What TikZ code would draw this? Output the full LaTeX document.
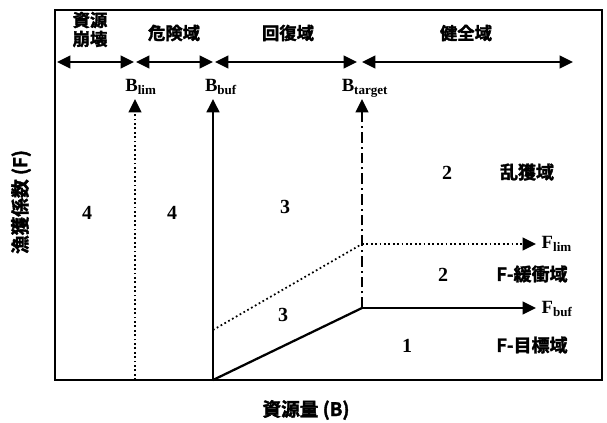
\documentclass[tikz,border=0pt]{standalone}
\usepackage{fontspec}
\setmainfont{Liberation Serif}
\newfontfamily\cjk{Noto Sans CJK JP}[BoldFont={* Bold},BoldFeatures={FakeBold=2}]
\usetikzlibrary{arrows.meta}
\tikzset{
  tip/.tip={Triangle[length=10pt,width=9.5pt]},
  frame/.style={line width=1.6pt},
  dbl/.style={line width=1.3pt,{tip}-{tip}},
  vsolid/.style={line width=1.9pt,-{tip}},
  vdot/.style={line width=1.3pt,dotted,-{tip}},
  vdashdot/.style={line width=1.7pt,dash pattern=on 8pt off 3pt on 1.5pt off 3pt,-{tip}},
  zone/.style={font=\cjk\bfseries\fontsize{13}{13.5}\selectfont, align=center, inner sep=1pt},
  blab/.style={font=\bfseries\fontsize{14}{15}\selectfont},
  num/.style={font=\bfseries\fontsize{15}{16}\selectfont},
  rlab/.style={font=\cjk\bfseries\fontsize{13.5}{14}\selectfont},
  axlab/.style={font=\cjk\bfseries\fontsize{14}{15}\selectfont},
}
\begin{document}
\begin{tikzpicture}[x=0.75pt,y=-0.75pt]
\useasboundingbox (0,0) rectangle (607,422);
% frame
\draw[frame] (55,10) rectangle (602,380);
\draw[line width=2.2pt] (55,380) -- (602,380);
% top double arrows
\coordinate (a0) at (57,62);
\coordinate (a1) at (134,62);
\coordinate (a2) at (136,62);
\coordinate (a3) at (213,62);
\coordinate (a4) at (215,62);
\coordinate (a5) at (357,62);
\coordinate (a6) at (362,62);
\coordinate (a7) at (573,62);
\draw[dbl] (a0) -- (a1);
\draw[dbl] (a2) -- (a3);
\draw[dbl] (a4) -- (a5);
\draw[dbl] (a6) -- (a7);
% zone labels
\node[zone] (z1a) at (90,20) {資源};
\node[zone] (z1b) at (90,39) {崩壊};
\node[zone] (z2) at (174,33) {危険域};
\node[zone] (z3) at (288,33) {回復域};
\node[zone] (z4) at (466,33) {健全域};
% B labels
\node[blab] (blim) at (141,87) {B\textsubscript{lim}};
\node[blab] (bbuf) at (221,87) {B\textsubscript{buf}};
\node[blab] (btar) at (365,88) {B\textsubscript{target}};
% vertical lines
\coordinate (blim0) at (135,380);
\coordinate (blim1) at (135,99);
\coordinate (bbuf0) at (213,380);
\coordinate (bbuf1) at (213,99);
\coordinate (btar0) at (362,308);
\coordinate (btar1) at (362,99);
\draw[vdot] (blim0) -- (blim1);
\draw[vsolid] (bbuf0) -- (bbuf1);
\draw[vdashdot] (btar0) -- (btar1);
% HCR lines
\coordinate (s0) at (213,380);
\coordinate (s1) at (362,308);
\coordinate (s2) at (536,308);
\coordinate (d0) at (213,330);
\coordinate (d1) at (362,244);
\coordinate (d2) at (536,244);
\draw[line width=1.7pt] (s0) -- (s1);
\draw[line width=1.7pt,-{tip}] (s1) -- (s2);
\draw[line width=1.3pt,dotted] (d0) -- (d1);
\draw[line width=1.3pt,dotted,-{tip}] (d1) -- (d2);
% F labels
\node[blab,anchor=west] (flim) at (537,244) {F\textsubscript{lim}};
\node[blab,anchor=west] (fbuf) at (537,309) {F\textsubscript{buf}};
% numbers
\node[num] (n4a) at (87,213) {4};
\node[num] (n4b) at (172,213) {4};
\node[num] (n3a) at (285,207) {3};
\node[num] (n3b) at (283,315) {3};
\node[num] (n2a) at (447,173) {2};
\node[num] (n2b) at (443,275) {2};
\node[num] (n1) at (407,346) {1};
% region labels
\node[rlab] (r1) at (527,172) {乱獲域};
\node[rlab] (r2) at (532,274) {F-緩衝域};
\node[rlab] (r3) at (532,345) {F-目標域};
% axis labels
\node[axlab,rotate=90] (yl) at (21,202) {漁獲係数 (F)};
\node[axlab] (xl) at (306,410) {資源量 (B)};
\end{tikzpicture}
\end{document}
